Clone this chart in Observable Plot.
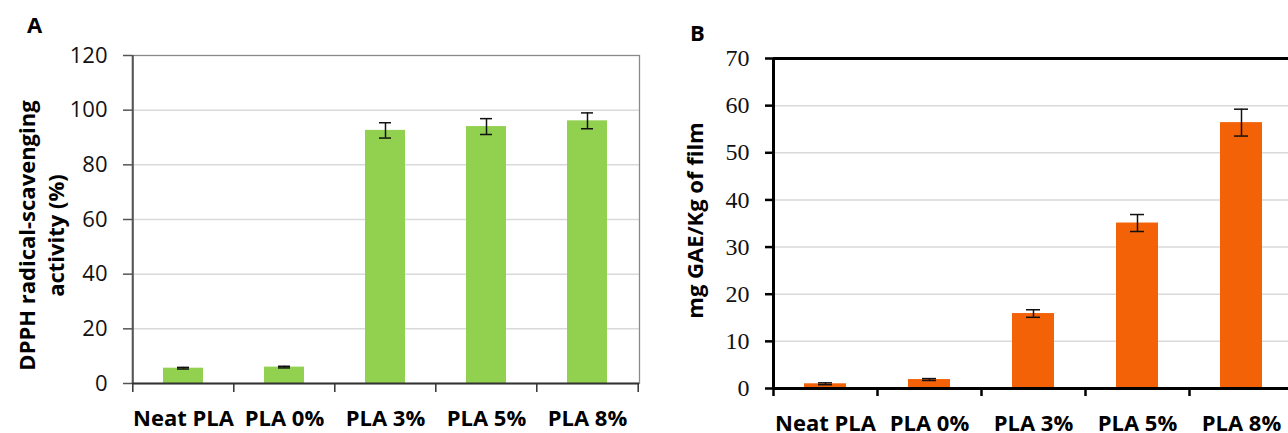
<!DOCTYPE html>
<html>
<head>
<meta charset="utf-8">
<script src="https://cdn.jsdelivr.net/npm/d3@7"></script>
<script src="https://cdn.jsdelivr.net/npm/@observablehq/plot@0.6"></script>
<style>
  html, body { margin: 0; padding: 0; background: #fff; overflow: hidden; }
  #root { position: relative; width: 1288px; height: 433px; overflow: hidden; font-family: "Open Sans", sans-serif; }
  #root svg { position: absolute; top: 0; overflow: visible; }
  .panel-letter { position: absolute; font-family: "Open Sans", sans-serif; font-weight: bold; font-size: 22px; line-height: 1; color: #000; }
</style>
</head>
<body>
<div id="root">
  <div class="panel-letter" style="left:27px; top:13px;">A</div>
  <div class="panel-letter" style="left:690px; top:21px;">B</div>
</div>
<script>
// ---- Data ----
const categories = ["Neat PLA", "PLA 0%", "PLA 3%", "PLA 5%", "PLA 8%"];
const dpphValues = [5.6, 6.0, 92.6, 94.0, 96.1];
const dpphErrors = [0.3, 0.3, 2.8, 2.9, 2.9];
const gaeValues = [1.0, 1.9, 15.9, 35.1, 56.4];
const gaeErrors = [0.2, 0.2, 0.8, 1.8, 2.85];
const dpphTicks = [0, 20, 40, 60, 80, 100, 120];
const gaeTicks = [0, 10, 20, 30, 40, 50, 60, 70];
const dpphTitle = "DPPH radical-scavenging\nactivity (%)";
const gaeTitle = "mg GAE/Kg of film";

const rowsA = categories.map((c, i) => ({cat: c, v: dpphValues[i], e: dpphErrors[i]}));
const rowsB = categories.map((c, i) => ({cat: c, v: gaeValues[i], e: gaeErrors[i]}));

const root = document.getElementById("root");
const sansFont = "'Open Sans', sans-serif";
const serifFont = "'Liberation Serif', 'DejaVu Serif', serif";

// ---- Panel A ----
{
  const W = 660, H = 433, mL = 132, mR = 21, mT = 55, mB = 50;
  const bw = (W - mL - mR) / categories.length;
  const svg = Plot.plot({
    width: W, height: H,
    marginLeft: mL, marginRight: mR, marginTop: mT, marginBottom: mB,
    style: {fontFamily: sansFont, background: "transparent"},
    x: {domain: categories, paddingInner: 0.6, paddingOuter: 0.3, align: 0.5},
    y: {domain: [0, 120]},
    marks: [
      Plot.gridY(dpphTicks.filter(t => t > 0 && t < 120), {stroke: "#d9d9d9", strokeOpacity: 1, strokeWidth: 1.5}),
      Plot.frame({stroke: "#8a8a8a", strokeWidth: 1.3}),
      Plot.barY(rowsA, {x: "cat", y: "v", fill: "#92d050"}),
      Plot.ruleX(rowsA, {x: "cat", y1: d => d.v - d.e, y2: d => d.v + d.e, stroke: "#111", strokeWidth: 1.5}),
      Plot.tickY(rowsA, {x: "cat", y: d => d.v + d.e, stroke: "#111", strokeWidth: 1.5, insetLeft: 14, insetRight: 14}),
      Plot.tickY(rowsA, {x: "cat", y: d => d.v - d.e, stroke: "#111", strokeWidth: 1.5, insetLeft: 14, insetRight: 14}),
      Plot.ruleX([categories[0]], {dx: -bw / 2, y1: 0, y2: 120, stroke: "#555", strokeWidth: 2}),
      Plot.ruleY([0], {stroke: "#333", strokeWidth: 2}),
      Plot.axisY(dpphTicks, {tickSize: 9, tickPadding: 16, fontSize: 22, fill: "#111", stroke: "#555", strokeWidth: 1.5, label: null}),
      Plot.axisX({tickSize: 0, tickPadding: 27, fontSize: 22, fontWeight: "bold", fill: "#000", label: null}),
      Plot.axisX({tickSize: 9, fill: "none", stroke: "#333", strokeWidth: 1.5, dx: -bw / 2, label: null}),
      Plot.axisX([categories[categories.length - 1]], {tickSize: 9, fill: "none", stroke: "#333", strokeWidth: 1.5, dx: bw / 2, label: null}),
      Plot.text([dpphTitle], {text: d => d, frameAnchor: "left", textAnchor: "middle", lineAnchor: "middle", rotate: -90, dx: -92, dy: 16, fontSize: 22, fontWeight: "bold", lineHeight: 1.3, fill: "#000"})
    ]
  });
  svg.style.left = "0px";
  root.appendChild(svg);
}

// ---- Panel B ----
{
  const W = 640, H = 433, mL = 113, mR = 7, mT = 58, mB = 45;
  const bw = (W - mL - mR) / categories.length;
  const svg = Plot.plot({
    width: W, height: H,
    marginLeft: mL, marginRight: mR, marginTop: mT, marginBottom: mB,
    style: {fontFamily: sansFont, background: "transparent"},
    x: {domain: categories, paddingInner: 0.6, paddingOuter: 0.3, align: 0.5},
    y: {domain: [0, 70]},
    marks: [
      Plot.gridY(gaeTicks.filter(t => t > 0 && t < 70), {stroke: "#d9d9d9", strokeOpacity: 1, strokeWidth: 1.5}),
      Plot.ruleY([70], {stroke: "#000", strokeWidth: 3}),
      Plot.barY(rowsB, {x: "cat", y: "v", fill: "#f46208"}),
      Plot.ruleX(rowsB, {x: "cat", y1: d => d.v - d.e, y2: d => d.v + d.e, stroke: "#111", strokeWidth: 1.5}),
      Plot.tickY(rowsB, {x: "cat", y: d => d.v + d.e, stroke: "#111", strokeWidth: 1.5, insetLeft: 14, insetRight: 14}),
      Plot.tickY(rowsB, {x: "cat", y: d => d.v - d.e, stroke: "#111", strokeWidth: 1.5, insetLeft: 14, insetRight: 14}),
      Plot.ruleX([categories[0]], {dx: -bw / 2, y1: 0, y2: 70, stroke: "#000", strokeWidth: 3}),
      Plot.ruleY([0], {stroke: "#000", strokeWidth: 3}),
      Plot.axisY(gaeTicks, {tickSize: 8, fill: "none", stroke: "#000", strokeWidth: 2.5, label: null}),
      Plot.text(gaeTicks, {y: d => d, text: d => String(d), frameAnchor: "left", textAnchor: "end", lineAnchor: "middle", dx: -24, fontSize: 24, fontFamily: serifFont, fill: "#111"}),
      Plot.axisX({tickSize: 0, tickPadding: 27, fontSize: 22, fontWeight: "bold", fill: "#000", label: null}),
      Plot.axisX({tickSize: 8, fill: "none", stroke: "#000", strokeWidth: 2.5, dx: -bw / 2, label: null}),
      Plot.text([gaeTitle], {text: d => d, frameAnchor: "left", textAnchor: "middle", lineAnchor: "middle", rotate: -90, dx: -78, dy: -3, fontSize: 22, fontWeight: "bold", fill: "#000"})
    ]
  });
  svg.style.left = "660px";
  root.appendChild(svg);
}
</script>
</body>
</html>
